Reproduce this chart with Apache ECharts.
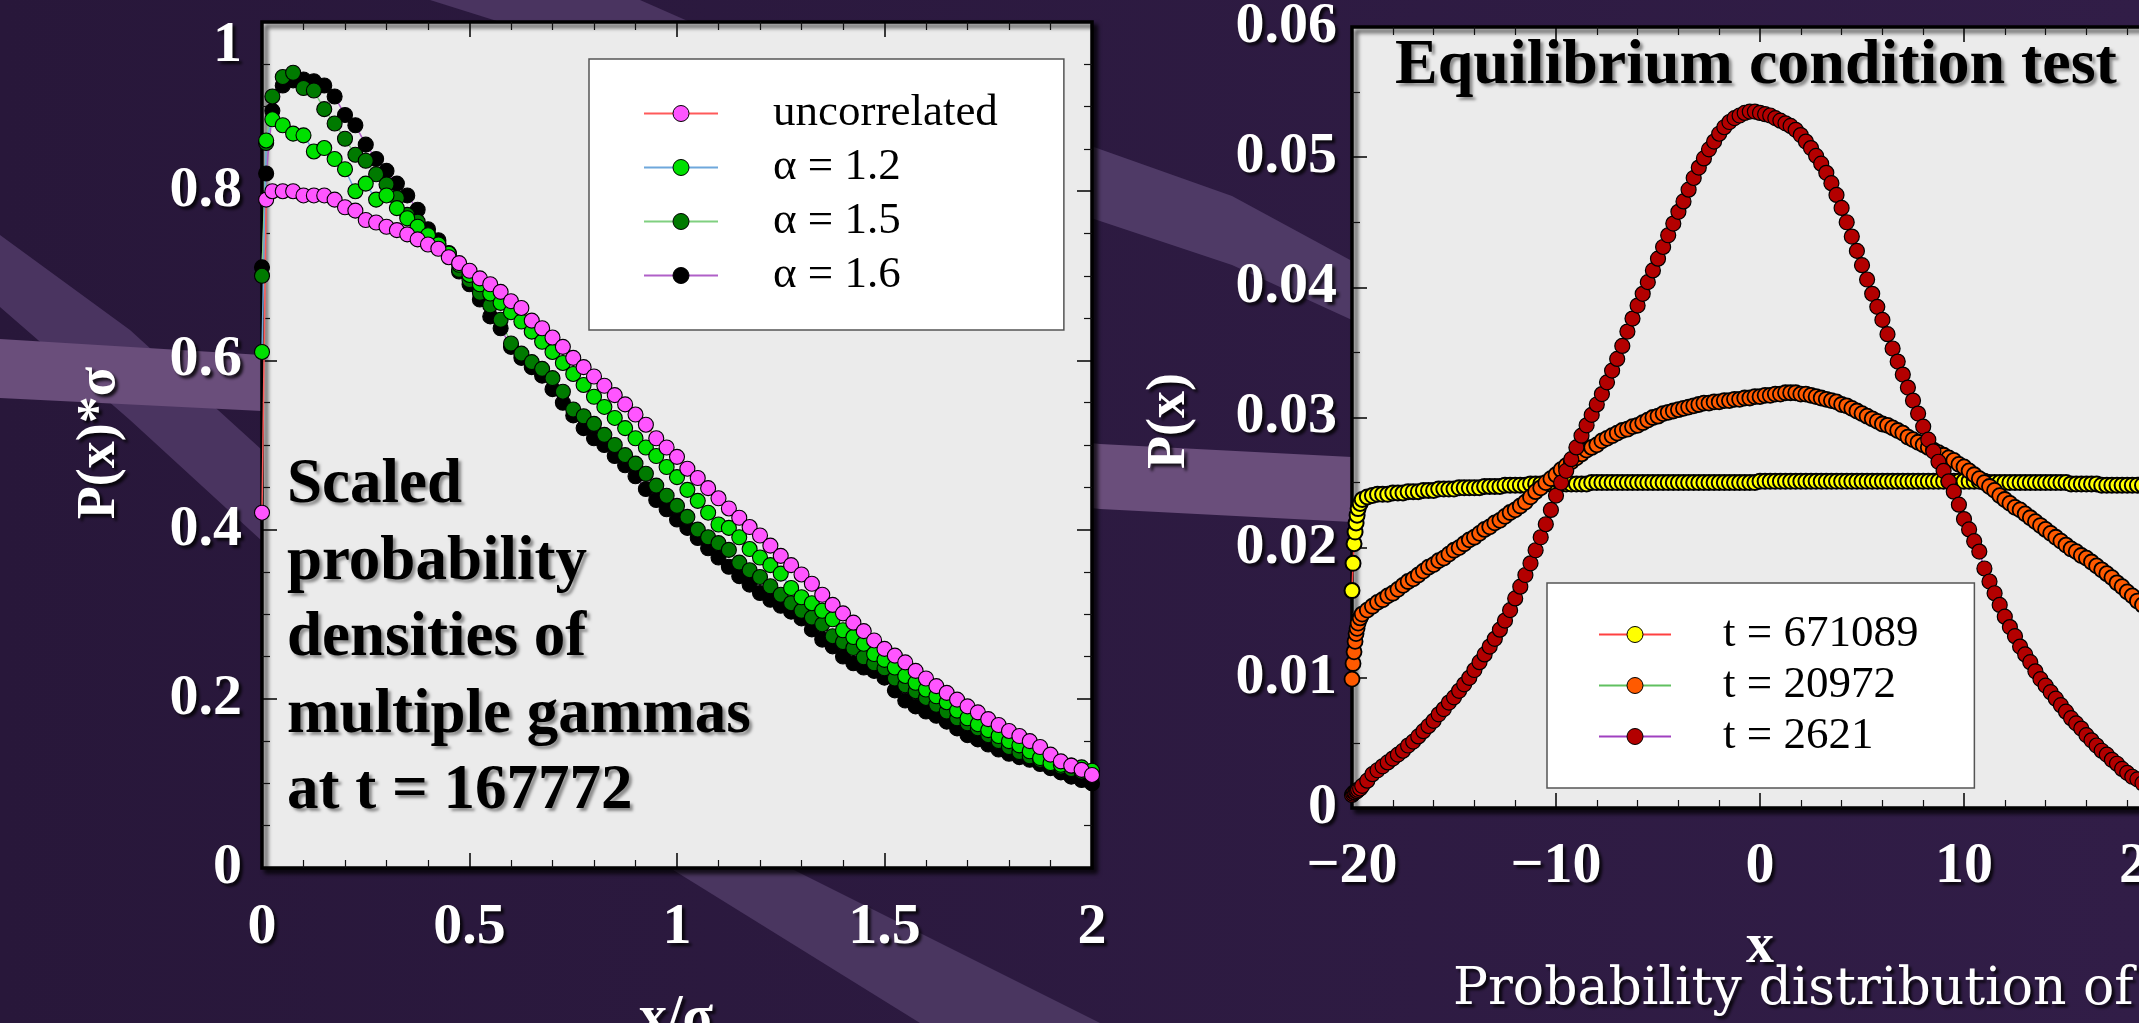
<!DOCTYPE html>
<html>
<head>
<meta charset="utf-8">
<style>
  html, body { margin: 0; padding: 0; background: #2b1a3d; overflow: hidden; }
  #chart { width: 2139px; height: 1023px; }
</style>
<script src="https://cdn.jsdelivr.net/npm/echarts@6/dist/echarts.min.js"></script>
</head>
<body>
<div id="chart"></div>
<script>
// ---- left panel: scaled densities, x/sigma ----
var xScaled = [
  0, 0.01, 0.025, 0.05, 0.075, 0.1, 0.125, 0.15, 0.175, 0.2,
  0.225, 0.25, 0.275, 0.3, 0.325, 0.35, 0.375, 0.4, 0.425, 0.45,
  0.475, 0.5, 0.525, 0.55, 0.575, 0.6, 0.625, 0.65, 0.675, 0.7,
  0.725, 0.75, 0.775, 0.8, 0.825, 0.85, 0.875, 0.9, 0.925, 0.95,
  0.975, 1, 1.025, 1.05, 1.075, 1.1, 1.125, 1.15, 1.175, 1.2,
  1.225, 1.25, 1.275, 1.3, 1.325, 1.35, 1.375, 1.4, 1.425, 1.45,
  1.475, 1.5, 1.525, 1.55, 1.575, 1.6, 1.625, 1.65, 1.675, 1.7,
  1.725, 1.75, 1.775, 1.8, 1.825, 1.85, 1.875, 1.9, 1.925, 1.95,
  1.975, 2
]
var uncorrelated = [
  0.42, 0.79, 0.80, 0.80, 0.80, 0.795, 0.795, 0.795, 0.79, 0.781,
  0.777, 0.766, 0.763, 0.758, 0.754, 0.749, 0.743, 0.737, 0.732, 0.722,
  0.715, 0.706, 0.697, 0.690, 0.681, 0.670, 0.662, 0.647, 0.638, 0.627,
  0.616, 0.603, 0.592, 0.581, 0.570, 0.559, 0.548, 0.536, 0.524, 0.508,
  0.497, 0.486, 0.472, 0.461, 0.449, 0.437, 0.425, 0.414, 0.403, 0.393,
  0.381, 0.369, 0.358, 0.347, 0.336, 0.323, 0.311, 0.301, 0.290, 0.280,
  0.269, 0.259, 0.251, 0.243, 0.233, 0.224, 0.215, 0.207, 0.199, 0.191,
  0.184, 0.176, 0.169, 0.162, 0.156, 0.150, 0.143, 0.134, 0.126, 0.121,
  0.116, 0.110
]
var alpha12 = [
  0.61, 0.86, 0.885, 0.878, 0.868, 0.866, 0.847, 0.851, 0.838, 0.826,
  0.800, 0.809, 0.790, 0.795, 0.780, 0.768, 0.758, 0.748, 0.737, 0.726,
  0.713, 0.701, 0.690, 0.679, 0.668, 0.657, 0.646, 0.634, 0.622, 0.610,
  0.597, 0.584, 0.571, 0.557, 0.545, 0.532, 0.520, 0.508, 0.497, 0.487,
  0.474, 0.462, 0.447, 0.434, 0.420, 0.406, 0.402, 0.391, 0.377, 0.367,
  0.358, 0.348, 0.331, 0.320, 0.313, 0.304, 0.294, 0.281, 0.273, 0.265,
  0.253, 0.246, 0.237, 0.227, 0.219, 0.211, 0.203, 0.196, 0.186, 0.177,
  0.170, 0.163, 0.156, 0.150, 0.145, 0.138, 0.130, 0.124, 0.122, 0.121,
  0.119, 0.115
]
var alpha15 = [
  0.70, 0.857, 0.912, 0.935, 0.940, 0.922, 0.919, 0.897, 0.880, 0.862,
  0.843, 0.836, 0.820, 0.808, 0.792, 0.772, 0.764, 0.749, 0.738, 0.725,
  0.707, 0.695, 0.680, 0.665, 0.648, 0.620, 0.608, 0.598, 0.590, 0.579,
  0.563, 0.542, 0.534, 0.525, 0.512, 0.500, 0.488, 0.478, 0.466, 0.452,
  0.440, 0.428, 0.415, 0.400, 0.391, 0.384, 0.376, 0.361, 0.352, 0.344,
  0.333, 0.323, 0.313, 0.304, 0.296, 0.288, 0.274, 0.267, 0.260, 0.249,
  0.242, 0.236, 0.224, 0.216, 0.209, 0.201, 0.193, 0.185, 0.177, 0.171,
  0.165, 0.157, 0.150, 0.143, 0.137, 0.132, 0.128, 0.123, 0.120, 0.117,
  0.114, 0.112
]
var alpha16 = [
  0.71, 0.821, 0.895, 0.925, 0.931, 0.932, 0.930, 0.925, 0.912, 0.890,
  0.878, 0.855, 0.838, 0.824, 0.809, 0.795, 0.778, 0.755, 0.742, 0.727,
  0.705, 0.690, 0.672, 0.652, 0.638, 0.616, 0.603, 0.592, 0.582, 0.566,
  0.550, 0.535, 0.520, 0.508, 0.500, 0.487, 0.476, 0.463, 0.448, 0.435,
  0.424, 0.412, 0.402, 0.390, 0.378, 0.367, 0.356, 0.345, 0.335, 0.325,
  0.317, 0.310, 0.303, 0.295, 0.282, 0.270, 0.262, 0.250, 0.242, 0.237,
  0.233, 0.225, 0.210, 0.198, 0.191, 0.185, 0.180, 0.173, 0.165, 0.157,
  0.152, 0.146, 0.140, 0.135, 0.131, 0.128, 0.123, 0.118, 0.113, 0.108,
  0.104, 0.100
]

// ---- right panel: equilibrium test, x ----
var xPos = [
  -20, -19.95, -19.9, -19.85, -19.8, -19.75, -19.7, -19.6, -19.5,
  -19.25, -19, -18.75, -18.5, -18.25, -18, -17.75, -17.5,
  -17.25, -17, -16.75, -16.5, -16.25, -16, -15.75, -15.5,
  -15.25, -15, -14.75, -14.5, -14.25, -14, -13.75, -13.5,
  -13.25, -13, -12.75, -12.5, -12.25, -12, -11.75, -11.5,
  -11.25, -11, -10.75, -10.5, -10.25, -10, -9.75, -9.5,
  -9.25, -9, -8.75, -8.5, -8.25, -8, -7.75, -7.5,
  -7.25, -7, -6.75, -6.5, -6.25, -6, -5.75, -5.5,
  -5.25, -5, -4.75, -4.5, -4.25, -4, -3.75, -3.5,
  -3.25, -3, -2.75, -2.5, -2.25, -2, -1.75, -1.5,
  -1.25, -1, -0.75, -0.5, -0.25, 0, 0.25, 0.5,
  0.75, 1, 1.25, 1.5, 1.75, 2, 2.25, 2.5,
  2.75, 3, 3.25, 3.5, 3.75, 4, 4.25, 4.5,
  4.75, 5, 5.25, 5.5, 5.75, 6, 6.25, 6.5,
  6.75, 7, 7.25, 7.5, 7.75, 8, 8.25, 8.5,
  8.75, 9, 9.25, 9.5, 9.75, 10, 10.25, 10.5,
  10.75, 11, 11.25, 11.5, 11.75, 12, 12.25, 12.5,
  12.75, 13, 13.25, 13.5, 13.75, 14, 14.25, 14.5,
  14.75, 15, 15.25, 15.5, 15.75, 16, 16.25, 16.5,
  16.75, 17, 17.25, 17.5, 17.75, 18, 18.25, 18.5,
  18.75, 19, 19.25, 19.5
]
var t671089 = [
  0.0167, 0.0188, 0.0203, 0.0212, 0.0219, 0.0225, 0.0230, 0.0234, 0.0237,
  0.0239, 0.0240, 0.0241, 0.0241, 0.0241, 0.0242, 0.0242, 0.0242,
  0.0243, 0.0243, 0.0243, 0.0244, 0.0244, 0.0244, 0.0245, 0.0245,
  0.0245, 0.0245, 0.0246, 0.0246, 0.0246, 0.0246, 0.0246, 0.0247,
  0.0247, 0.0247, 0.0247, 0.0248, 0.0248, 0.0248, 0.0248, 0.0248,
  0.0249, 0.0249, 0.0249, 0.0249, 0.0249, 0.0249, 0.0249, 0.0249,
  0.0249, 0.0249, 0.0249, 0.0249, 0.0250, 0.0250, 0.0250, 0.0250,
  0.0250, 0.0250, 0.0250, 0.0250, 0.0250, 0.0250, 0.0250, 0.0250,
  0.0250, 0.0250, 0.0250, 0.0250, 0.0250, 0.0250, 0.0250, 0.0250,
  0.0250, 0.0250, 0.0250, 0.0250, 0.0250, 0.0250, 0.0250, 0.0250,
  0.0250, 0.0250, 0.0250, 0.0250, 0.0250, 0.0251, 0.0251, 0.0251,
  0.0251, 0.0251, 0.0251, 0.0251, 0.0251, 0.0251, 0.0251, 0.0251,
  0.0251, 0.0251, 0.0251, 0.0251, 0.0251, 0.0251, 0.0251, 0.0251,
  0.0251, 0.0251, 0.0251, 0.0251, 0.0251, 0.0251, 0.0251, 0.0251,
  0.0251, 0.0251, 0.0251, 0.0251, 0.0251, 0.0251, 0.0251, 0.0251,
  0.0251, 0.0251, 0.0251, 0.0251, 0.0251, 0.0251, 0.0251, 0.0251,
  0.0251, 0.0251, 0.0250, 0.0250, 0.0250, 0.0250, 0.0250, 0.0250,
  0.0250, 0.0250, 0.0250, 0.0250, 0.0250, 0.0250, 0.0250, 0.0250,
  0.0250, 0.0250, 0.0249, 0.0249, 0.0249, 0.0249, 0.0249, 0.0249,
  0.0248, 0.0248, 0.0248, 0.0248, 0.0248, 0.0248, 0.0248, 0.0248,
  0.0248, 0.0247, 0.0247, 0.0246
]
var t20972 = [
  0.0099, 0.0111, 0.0120, 0.0128, 0.0134, 0.0138, 0.0142, 0.0146, 0.0149,
  0.0152, 0.0155, 0.0158, 0.0160, 0.0163, 0.0165, 0.0168, 0.0171,
  0.0174, 0.0176, 0.0179, 0.0182, 0.0185, 0.0187, 0.0190, 0.0192,
  0.0195, 0.0198, 0.0200, 0.0203, 0.0206, 0.0208, 0.0211, 0.0214,
  0.0216, 0.0219, 0.0221, 0.0224, 0.0227, 0.0229, 0.0232, 0.0235,
  0.0239, 0.0243, 0.0246, 0.0250, 0.0253, 0.0256, 0.0260, 0.0263,
  0.0266, 0.0269, 0.0272, 0.0275, 0.0277, 0.0279, 0.0282, 0.0284,
  0.0286, 0.0288, 0.0290, 0.0291, 0.0293, 0.0294, 0.0296, 0.0298,
  0.0300, 0.0301, 0.0303, 0.0304, 0.0305, 0.0306, 0.0307, 0.0308,
  0.0309, 0.0310, 0.0311, 0.0311, 0.0312, 0.0312, 0.0313, 0.0313,
  0.0314, 0.0314, 0.0315, 0.0315, 0.0316, 0.0316, 0.0317, 0.0317,
  0.0318, 0.0318, 0.0319, 0.0319, 0.0319, 0.0318, 0.0318, 0.0317,
  0.0316, 0.0315, 0.0314, 0.0313, 0.0312, 0.0310, 0.0309, 0.0307,
  0.0305, 0.0303, 0.0301, 0.0299, 0.0297, 0.0295, 0.0294, 0.0292,
  0.0290, 0.0288, 0.0285, 0.0283, 0.0281, 0.0279, 0.0277, 0.0275,
  0.0273, 0.0271, 0.0269, 0.0267, 0.0264, 0.0262, 0.0259, 0.0256,
  0.0253, 0.0250, 0.0247, 0.0244, 0.0240, 0.0237, 0.0234, 0.0231,
  0.0229, 0.0226, 0.0223, 0.0220, 0.0217, 0.0214, 0.0211, 0.0208,
  0.0205, 0.0202, 0.0199, 0.0197, 0.0194, 0.0192, 0.0189, 0.0186,
  0.0183, 0.0180, 0.0177, 0.0173, 0.0170, 0.0166, 0.0163, 0.0159,
  0.0156, 0.0152, 0.0148, 0.0143
]
var t2621 = [
  0.0010, 0.0011, 0.0012, 0.0012, 0.0013, 0.0013, 0.0014, 0.0015, 0.0017,
  0.0021, 0.0026, 0.0029, 0.0032, 0.0035, 0.0038, 0.0041, 0.0044,
  0.0048, 0.0051, 0.0055, 0.0059, 0.0063, 0.0067, 0.0072, 0.0076,
  0.0081, 0.0085, 0.0090, 0.0095, 0.0100, 0.0106, 0.0112, 0.0118,
  0.0124, 0.0130, 0.0137, 0.0144, 0.0152, 0.0161, 0.0170, 0.0179,
  0.0188, 0.0198, 0.0208, 0.0218, 0.0229, 0.0240, 0.0250, 0.0259,
  0.0268, 0.0277, 0.0286, 0.0294, 0.0302, 0.0310, 0.0318, 0.0327,
  0.0336, 0.0345, 0.0355, 0.0366, 0.0376, 0.0386, 0.0395, 0.0404,
  0.0413, 0.0422, 0.0431, 0.0440, 0.0449, 0.0458, 0.0466, 0.0475,
  0.0484, 0.0492, 0.0499, 0.0506, 0.0512, 0.0518, 0.0523, 0.0527,
  0.0530, 0.0532, 0.0534, 0.0535, 0.0535, 0.0534, 0.0533, 0.0532,
  0.0530, 0.0528, 0.0526, 0.0524, 0.0521, 0.0517, 0.0512, 0.0507,
  0.0501, 0.0495, 0.0488, 0.0480, 0.0471, 0.0461, 0.0450, 0.0439,
  0.0428, 0.0417, 0.0406, 0.0395, 0.0385, 0.0375, 0.0364, 0.0353,
  0.0343, 0.0333, 0.0323, 0.0313, 0.0303, 0.0293, 0.0283, 0.0274,
  0.0266, 0.0259, 0.0251, 0.0243, 0.0233, 0.0222, 0.0214, 0.0205,
  0.0197, 0.0184, 0.0174, 0.0165, 0.0156, 0.0147, 0.0139, 0.0132,
  0.0124, 0.0118, 0.0112, 0.0105, 0.0099, 0.0094, 0.0089, 0.0084,
  0.0079, 0.0074, 0.0069, 0.0065, 0.0061, 0.0056, 0.0052, 0.0048,
  0.0044, 0.0041, 0.0037, 0.0034, 0.0030, 0.0027, 0.0024, 0.0022,
  0.0019, 0.0017, 0.0015, 0.0013
]

var leftNames = ['uncorrelated', 'α = 1.2', 'α = 1.5', 'α = 1.6']
var rightNames = ['t = 671089', 't = 20972', 't = 2621']
var noteLines = ['Scaled', 'probability', 'densities of', 'multiple gammas', 'at t = 167772']

var SERIF = '"Liberation Serif", "DejaVu Serif", serif'
var WIDE_SERIF = '"DejaVu Serif", serif'

function zip (xs, ys) {
  return xs.map(function (x, i) { return [x, ys[i]] })
}

var tickLabel = {
  color: '#fff',
  fontFamily: SERIF,
  fontWeight: 'bold',
  fontSize: 58,
  textShadowColor: 'rgba(0,0,0,0.8)',
  textShadowBlur: 3,
  textShadowOffsetX: 3,
  textShadowOffsetY: 3
}
var richBase = { fontFamily: SERIF, fontWeight: 'bold', fontSize: 58, color: '#fff' }

function axis (opt) {
  var label = { show: false }
  if (opt.label) {
    label = Object.assign({ margin: opt.margin, formatter: opt.formatter, rich: opt.rich }, tickLabel)
  }
  return {
    type: 'value',
    gridIndex: opt.grid,
    position: opt.position,
    min: opt.min,
    max: opt.max,
    interval: opt.interval,
    axisLine: { show: false, onZero: false },
    axisTick: { inside: true, length: 15, lineStyle: { color: '#000', width: 1.5 } },
    minorTick: { show: true, splitNumber: opt.minor, length: 8, lineStyle: { color: '#111', width: 1.2 } },
    splitLine: { show: false },
    axisLabel: label
  }
}

function dots (name, xs, ys, fill, line, xi, yi, border) {
  return {
    name: name,
    type: 'line',
    xAxisIndex: xi,
    yAxisIndex: yi,
    data: zip(xs, ys),
    symbol: 'circle',
    symbolSize: 15,
    itemStyle: { color: fill, borderColor: '#000', borderWidth: border || 1.1 },
    lineStyle: { color: line, width: 1.5 },
    emphasis: { disabled: true },
    clip: true
  }
}

function txt (text, x, y, font, color, align, extra) {
  return Object.assign({
    type: 'text',
    x: x,
    y: y,
    z: 100,
    style: {
      text: text,
      fill: color,
      font: font,
      align: align,
      verticalAlign: 'middle',
      textShadowColor: color === '#fff' ? 'rgba(0,0,0,0.8)' : 'rgba(0,0,0,0.4)',
      textShadowBlur: 3,
      textShadowOffsetX: 3,
      textShadowOffsetY: 3
    }
  }, extra || {})
}

function band (points, fill) {
  return { type: 'polygon', z: -90, shape: { points: points }, style: { fill: fill } }
}

// minus sign on negatives; the "20" at the cut right edge sits a bit left of its tick
var xPosLabel = function (v) {
  if (v === 20) return '{last|20}'
  return v < 0 ? '\u2212' + Math.abs(v) : String(v)
}
// the top label "1" sits a little lower than its tick in the original
var lowOne = function (v) { return v === 1 ? '{low|1}' : String(v) }

var chart = echarts.init(document.getElementById('chart'))

var graphics = [
  {
    type: 'rect',
    z: -100,
    shape: { x: 0, y: 0, width: 2139, height: 1023 },
    style: {
      fill: new echarts.graphic.LinearGradient(0, 0, 1, 0, [
        { offset: 0, color: '#28173a' },
        { offset: 1, color: '#311d47' }
      ])
    }
  },
  band([[0, 235], [130, 330], [262, 450], [262, 541], [130, 420], [0, 307]], '#4a3460'),
  band([[0, 339], [262, 355], [1100, 444], [1352, 457], [1352, 522], [1100, 509], [262, 411], [0, 398]], '#6a4e7b'),
  band([[1091, 146], [1232, 196], [1352, 261], [1352, 320], [1232, 265], [1091, 218]], '#4f3a66'),
  band([[430, 0], [640, 0], [690, 22], [500, 22]], '#4a3460'),
  band([[670, 868], [790, 868], [1100, 1023], [920, 1023]], '#4a3660'),
  txt('P(x)*σ', 100, 443, 'bold 54px ' + SERIF, '#fff', 'center', { rotation: Math.PI / 2 }),
  txt('x/σ', 676, 1020, 'bold 56px ' + SERIF, '#fff', 'center'),
  txt('P(x)', 1170, 421, 'bold 54px ' + SERIF, '#fff', 'center', { rotation: Math.PI / 2 }),
  txt('x', 1760, 948, 'bold 56px ' + SERIF, '#fff', 'center'),
  txt('Probability distribution of', 1453, 990, '52px ' + WIDE_SERIF, '#fff', 'left'),
  txt('Equilibrium condition test', 1395, 66, 'bold 64px ' + SERIF, '#000', 'left')
]
noteLines.forEach(function (line, i) {
  graphics.push(txt(line, 287, 486 + i * 76.5, 'bold 63px ' + SERIF, '#000', 'left'))
})

var legendText = { fontFamily: SERIF, color: '#000' }

function panel (left, top, width, height) {
  return {
    left: left, top: top, width: width, height: height,
    outerBoundsMode: 'none',
    containLabel: false,
    show: true,
    backgroundColor: '#ebebeb',
    borderColor: '#000',
    borderWidth: 3.5,
    shadowColor: 'rgba(0,0,0,0.7)',
    shadowBlur: 4,
    shadowOffsetX: 4,
    shadowOffsetY: 4
  }
}

chart.setOption({
  animation: false,
  grid: [panel(262, 22, 830, 846), panel(1352, 27, 816, 781)],
  xAxis: [
    axis({ grid: 0, position: 'bottom', min: 0, max: 2, interval: 0.5, minor: 5, label: true, margin: 31 }),
    axis({ grid: 0, position: 'top', min: 0, max: 2, interval: 0.5, minor: 5 }),
    axis({
      grid: 1, position: 'bottom', min: -20, max: 20, interval: 10, minor: 5, label: true, margin: 30,
      formatter: xPosLabel,
      rich: { last: Object.assign({ padding: [0, 40, 0, 0] }, richBase) }
    }),
    axis({ grid: 1, position: 'top', min: -20, max: 20, interval: 10, minor: 5 })
  ],
  yAxis: [
    axis({
      grid: 0, position: 'left', min: 0, max: 1, interval: 0.2, minor: 4, label: true, margin: 20,
      formatter: lowOne,
      rich: { low: Object.assign({ padding: [48, 0, 0, 0] }, richBase) }
    }),
    axis({ grid: 0, position: 'right', min: 0, max: 1, interval: 0.2, minor: 4 }),
    axis({ grid: 1, position: 'left', min: 0, max: 0.06, interval: 0.01, minor: 2, label: true, margin: 15 }),
    axis({ grid: 1, position: 'right', min: 0, max: 0.06, interval: 0.01, minor: 2 })
  ],
  legend: [
    {
      data: leftNames,
      orient: 'vertical',
      left: 589,
      top: 59,
      padding: [32, 66, 32, 54],
      itemWidth: 74,
      itemHeight: 20,
      itemGap: 9,
      selectedMode: false,
      backgroundColor: '#fff',
      borderColor: '#555',
      borderWidth: 1.5,
      itemStyle: { borderWidth: 1 },
      textStyle: Object.assign({ fontSize: 45, lineHeight: 44, padding: [0, 0, 0, 50] }, legendText)
    },
    {
      data: rightNames,
      orient: 'vertical',
      left: 1547,
      top: 583,
      padding: [29, 56, 29, 51],
      itemWidth: 72,
      itemHeight: 20,
      itemGap: 6,
      selectedMode: false,
      backgroundColor: '#fff',
      borderColor: '#555',
      borderWidth: 1.5,
      itemStyle: { borderWidth: 1 },
      textStyle: Object.assign({ fontSize: 45, lineHeight: 45, padding: [0, 0, 0, 47] }, legendText)
    }
  ],
  series: [
    dots('α = 1.6', xScaled, alpha16, '#000000', '#b060c8', 0, 0),
    dots('α = 1.5', xScaled, alpha15, '#007a00', '#80d080', 0, 0),
    dots('α = 1.2', xScaled, alpha12, '#00e000', '#6fa8dc', 0, 0),
    dots('uncorrelated', xScaled, uncorrelated, '#ff55ff', '#ff5a5a', 0, 0),
    dots('t = 671089', xPos, t671089, '#ffff00', '#ff4040', 2, 2, 2),
    dots('t = 20972', xPos, t20972, '#ff5a00', '#60c060', 2, 2, 1.8),
    dots('t = 2621', xPos, t2621, '#b30000', '#a040c0', 2, 2, 1.2)
  ],
  graphic: graphics
})
</script>
</body>
</html>
